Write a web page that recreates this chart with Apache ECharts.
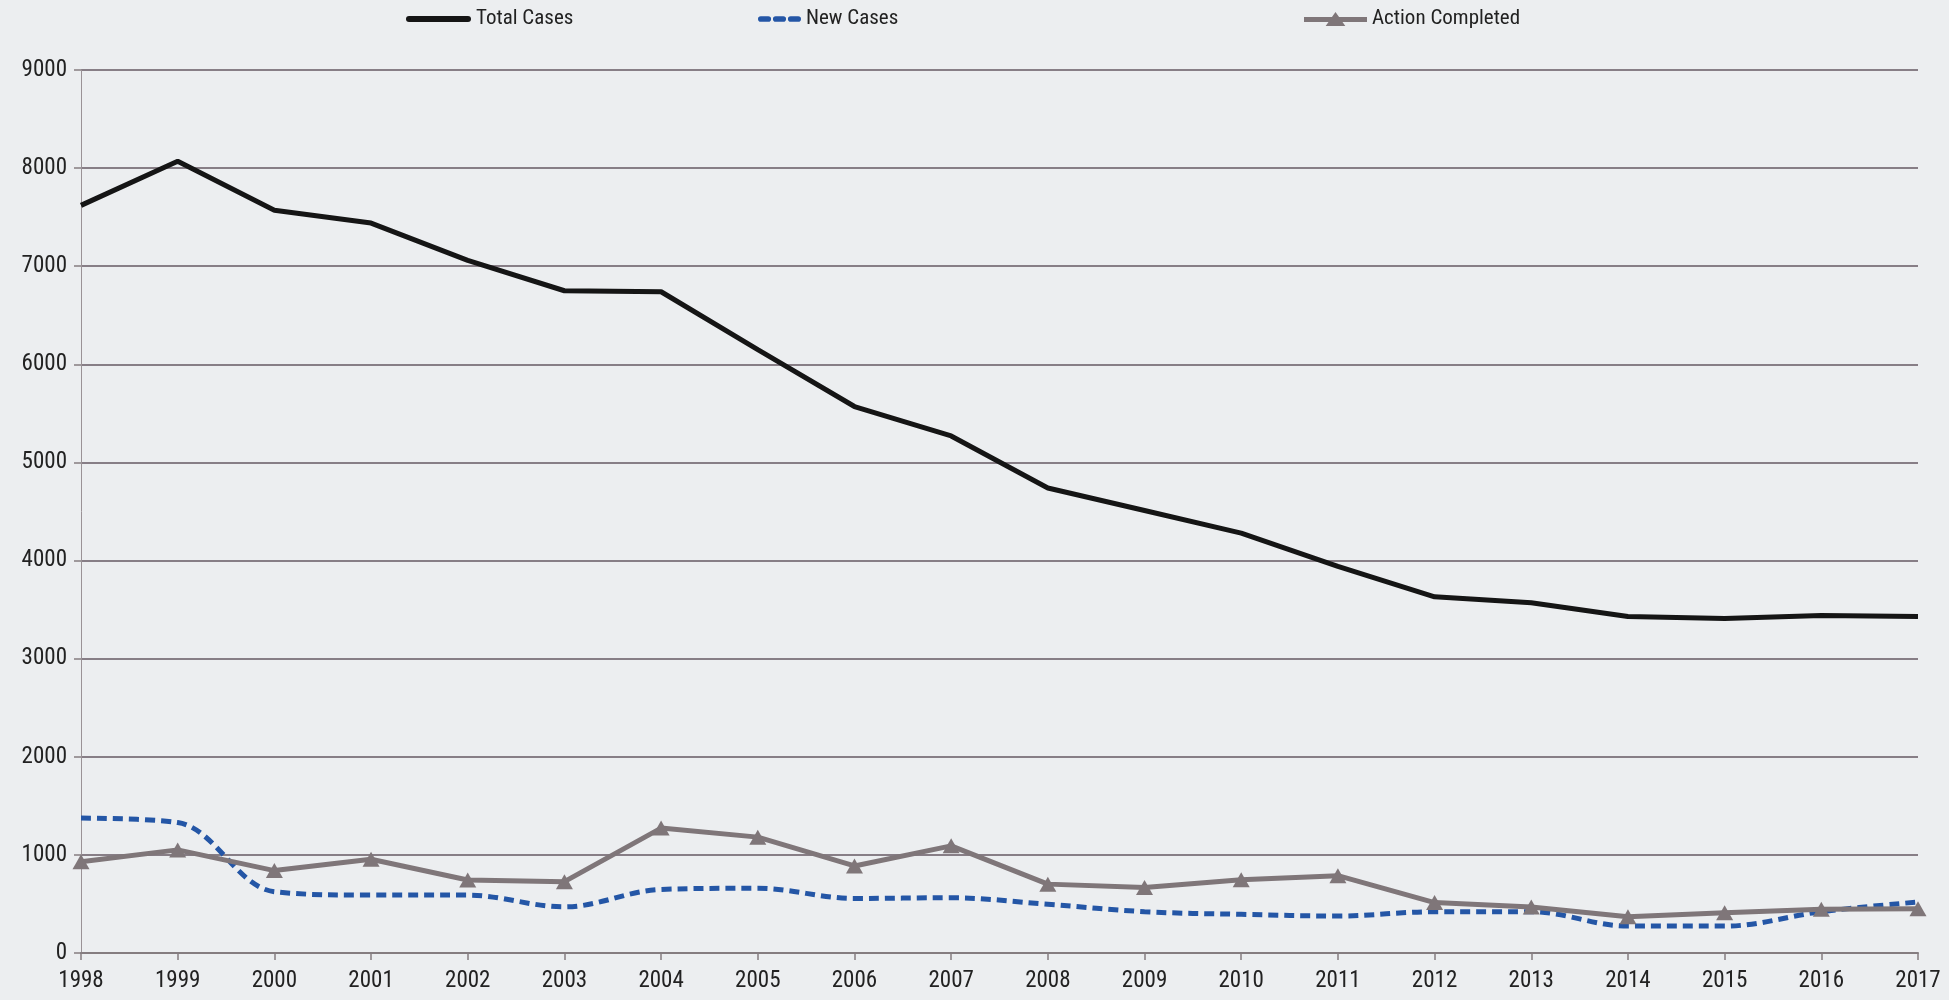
<!DOCTYPE html>
<html>
<head>
<meta charset="utf-8">
<script src="https://cdn.jsdelivr.net/npm/echarts@6/dist/echarts.min.js"></script>
<style>
html,body{margin:0;padding:0;background:#eceef0;}
#c{width:1949px;height:1000px;}
</style>
</head>
<body>
<div id="c"></div>
<script>
const years = ['1998','1999','2000','2001','2002','2003','2004','2005','2006','2007','2008','2009','2010','2011','2012','2013','2014','2015','2016','2017'];
const totalCases = [7620,8070,7570,7440,7060,6750,6740,6150,5570,5270,4740,4510,4280,3940,3630,3570,3430,3410,3440,3430];
const newCases = [1375,1330,625,590,590,470,648,660,556,563,497,421,394,377,421,421,274,274,421,520];
const actionCompleted = [930,1051,840,956,744,727,1273,1181,887,1092,702,668,747,788,514,469,370,411,445,452];
const yTicks = {min:0, max:9000, interval:1000};

const font = "'Liberation Sans Narrow','Roboto Condensed','Liberation Sans',sans-serif";
const chart = echarts.init(document.getElementById('c'));
const legendText = {fontFamily:font,fontSize:21,color:'#222',lineHeight:26};
chart.setOption({
  backgroundColor:'#eceef0',
  animation:false,
  legend:[
    {left:401, top:1, itemGap:0, itemWidth:65, itemHeight:6, textStyle:legendText,
     data:[{name:'Total Cases', icon:'path://M3,0H62A3,3 0 0 1 62,6H3A3,3 0 0 1 3,0Z', itemStyle:{color:'#151515'}}]},
    {left:753, top:1, itemGap:0, itemWidth:43, itemHeight:6, textStyle:legendText,
     data:[{name:'New Cases', icon:'path://M2,0H10A3,3 0 0 1 10,6H2A3,3 0 0 1 2,0Z M18,0H26A3,3 0 0 1 26,6H18A3,3 0 0 1 18,0Z M34,0H42A3,3 0 0 1 42,6H34A3,3 0 0 1 34,0Z', itemStyle:{color:'#2456a6'}}]},
    {left:1299, top:1, itemGap:0, itemWidth:63, itemHeight:14, textStyle:legendText,
     data:[{name:'Action Completed', icon:'path://M0,5H28.4L32,0L35.6,5H64V10H39.1L42,14H22L24.9,10H0Z', itemStyle:{color:'#7f7679'}}]}
  ],
  grid:{left:81, right:31, top:70, bottom:47, containLabel:false},
  xAxis:{
    type:'category', data:years, boundaryGap:false,
    axisLine:{lineStyle:{color:'#857d80',width:2}},
    axisTick:{show:true, length:7, lineStyle:{color:'#857d80',width:1.5}},
    axisLabel:{fontFamily:font, fontSize:23, color:'#222', margin:17},
    splitLine:{show:false}
  },
  yAxis:{
    type:'value', min:yTicks.min, max:yTicks.max, interval:yTicks.interval,
    axisLine:{show:true, lineStyle:{color:'#9a9296',width:1}},
    axisTick:{show:true, length:7, lineStyle:{color:'#857d80',width:1.5}},
    axisLabel:{fontFamily:font, fontSize:23, color:'#222', margin:14, formatter:v=>String(v)},
    splitLine:{lineStyle:{color:'#877e86',width:2}}
  },
  series:[
    {name:'Total Cases', type:'line', data:totalCases, symbol:'none', smooth:false,
     lineStyle:{color:'#151515', width:5}, itemStyle:{color:'#151515'}, z:3},
    {name:'New Cases', type:'line', data:newCases, symbol:'none', smooth:0.35,
     lineStyle:{color:'#2456a6', width:5, type:[10,6]}, itemStyle:{color:'#2456a6'}, z:2},
    {name:'Action Completed', type:'line', data:actionCompleted, symbol:'triangle', symbolSize:[17,15],
     lineStyle:{color:'#7f7679', width:5}, itemStyle:{color:'#7f7679'}, z:4}
  ]
});
</script>
</body>
</html>
